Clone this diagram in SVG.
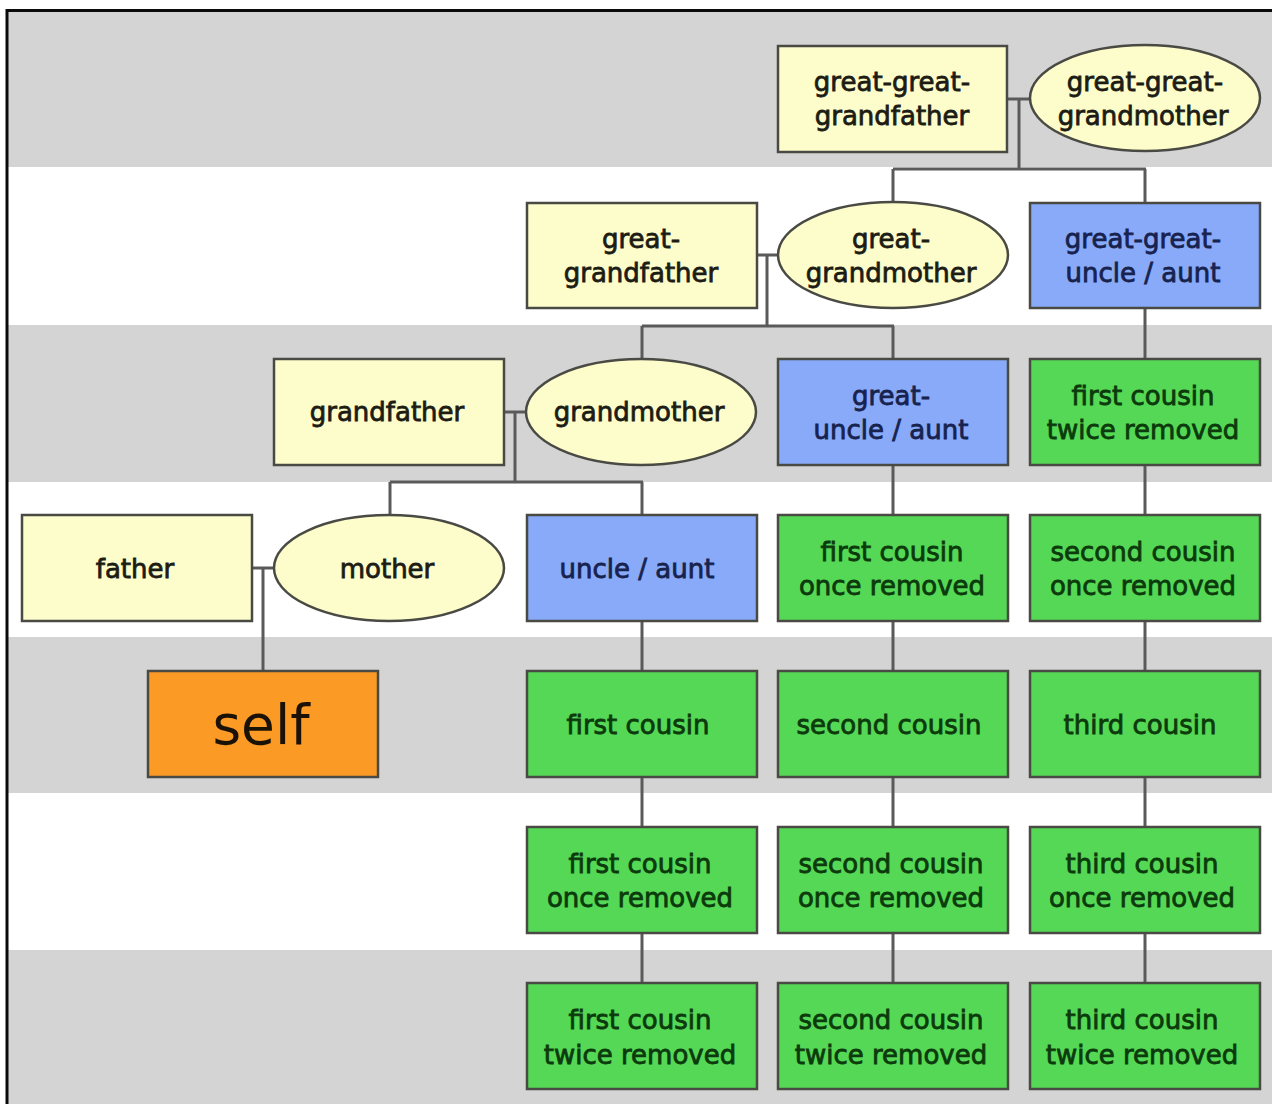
<svg xmlns="http://www.w3.org/2000/svg" width="1272" height="1104" viewBox="0 0 1272 1104">
  <style>
    .band { fill: #d4d4d4; }
    .box { stroke: #4a4a44; stroke-width: 2.5; }
    .anc { fill: #fdfccb; }
    .unc { fill: #88aaf8; }
    .cou { fill: #55d855; }
    .me { fill: #fb9a24; }
    .link { stroke: #5a5a5a; stroke-width: 3; fill: none; }
    text { font-family: "DejaVu Sans", "Liberation Sans", sans-serif; font-size: 26px; text-anchor: middle; stroke-width: 0.8px; }
    .t-anc { fill: #1c1c14; stroke: #1c1c14; }
    .t-unc { fill: #17224e; stroke: #17224e; }
    .t-cou { fill: #0c3a0c; stroke: #0c3a0c; }
  </style>

  <!-- generation bands -->
  <rect x="0" y="0" width="1272" height="1104" fill="#ffffff"/>
  <g id="bands">
    <rect class="band" x="8" y="12" width="1264" height="155"/>
    <rect class="band" x="8" y="325" width="1264" height="157"/>
    <rect class="band" x="8" y="637" width="1264" height="156"/>
    <rect class="band" x="8" y="950" width="1264" height="154"/>
  </g>
  <!-- frame -->
  <path d="M7 1104 V10.5 H1272" stroke="#0a0a0a" stroke-width="3" fill="none"/>

  <!-- connectors -->
  <g id="connectors">
    <path class="link" d="M1007 99 H1030 M1019 99 V169 M893 169 H1146 M893 169 V203 M1145 169 V203"/>
    <path class="link" d="M757 255 H778 M767 255 V326 M642 326 H894 M642 326 V359 M893 326 V359"/>
    <path class="link" d="M504 412 H526 M515 412 V482 M390 482 H643 M390 482 V515 M642 482 V515"/>
    <path class="link" d="M252 568 H274 M263 568 V671"/>
    <path class="link" d="M642 621 V671 M642 777 V827 M642 933 V983"/>
    <path class="link" d="M893 465 V515 M893 621 V671 M893 777 V827 M893 933 V983"/>
    <path class="link" d="M1145 308 V359 M1145 465 V515 M1145 621 V671 M1145 777 V827 M1145 933 V983"/>
  </g>

  <!-- generation 1 -->
  <g id="great-great-grandfather">
    <rect class="box anc" x="778" y="46" width="229" height="106"/>
    <text class="t-anc" x="892" y="91">great-great-</text>
    <text class="t-anc" x="892" y="125">grandfather</text>
  </g>
  <g id="great-great-grandmother">
    <ellipse class="box anc" cx="1145" cy="98" rx="115" ry="53"/>
    <text class="t-anc" x="1145" y="91">great-great-</text>
    <text class="t-anc" x="1143" y="125">grandmother</text>
  </g>

  <!-- generation 2 -->
  <g id="great-grandfather">
    <rect class="box anc" x="527" y="203" width="230" height="105"/>
    <text class="t-anc" x="641" y="248">great-</text>
    <text class="t-anc" x="641" y="282">grandfather</text>
  </g>
  <g id="great-grandmother">
    <ellipse class="box anc" cx="893" cy="255" rx="115" ry="53"/>
    <text class="t-anc" x="891" y="248">great-</text>
    <text class="t-anc" x="891" y="282">grandmother</text>
  </g>
  <g id="great-great-uncle-aunt">
    <rect class="box unc" x="1030" y="203" width="230" height="105"/>
    <text class="t-unc" x="1143" y="248">great-great-</text>
    <text class="t-unc" x="1143" y="282">uncle / aunt</text>
  </g>

  <!-- generation 3 -->
  <g id="grandfather">
    <rect class="box anc" x="274" y="359" width="230" height="106"/>
    <text class="t-anc" x="387" y="421">grandfather</text>
  </g>
  <g id="grandmother">
    <ellipse class="box anc" cx="641" cy="412" rx="115" ry="53"/>
    <text class="t-anc" x="639" y="421">grandmother</text>
  </g>
  <g id="great-uncle-aunt">
    <rect class="box unc" x="778" y="359" width="230" height="106"/>
    <text class="t-unc" x="891" y="405">great-</text>
    <text class="t-unc" x="891" y="439">uncle / aunt</text>
  </g>
  <g id="first-cousin-twice-removed-up">
    <rect class="box cou" x="1030" y="359" width="230" height="106"/>
    <text class="t-cou" x="1143" y="405">first cousin</text>
    <text class="t-cou" x="1143" y="439">twice removed</text>
  </g>

  <!-- generation 4 -->
  <g id="father">
    <rect class="box anc" x="22" y="515" width="230" height="106"/>
    <text class="t-anc" x="135" y="578">father</text>
  </g>
  <g id="mother">
    <ellipse class="box anc" cx="389" cy="568" rx="115" ry="53"/>
    <text class="t-anc" x="387" y="578">mother</text>
  </g>
  <g id="uncle-aunt">
    <rect class="box unc" x="527" y="515" width="230" height="106"/>
    <text class="t-unc" x="637" y="578">uncle / aunt</text>
  </g>
  <g id="first-cousin-once-removed-up">
    <rect class="box cou" x="778" y="515" width="230" height="106"/>
    <text class="t-cou" x="892" y="561">first cousin</text>
    <text class="t-cou" x="892" y="595">once removed</text>
  </g>
  <g id="second-cousin-once-removed-up">
    <rect class="box cou" x="1030" y="515" width="230" height="106"/>
    <text class="t-cou" x="1143" y="561">second cousin</text>
    <text class="t-cou" x="1143" y="595">once removed</text>
  </g>

  <!-- generation 5 -->
  <g id="self">
    <rect class="box me" x="148" y="671" width="230" height="106"/>
    <text x="261" y="744" style="font-size:55px" fill="#1a1206">self</text>
  </g>
  <g id="first-cousin">
    <rect class="box cou" x="527" y="671" width="230" height="106"/>
    <text class="t-cou" x="638" y="734">first cousin</text>
  </g>
  <g id="second-cousin">
    <rect class="box cou" x="778" y="671" width="230" height="106"/>
    <text class="t-cou" x="889" y="734">second cousin</text>
  </g>
  <g id="third-cousin">
    <rect class="box cou" x="1030" y="671" width="230" height="106"/>
    <text class="t-cou" x="1140" y="734">third cousin</text>
  </g>

  <!-- generation 6 -->
  <g id="first-cousin-once-removed">
    <rect class="box cou" x="527" y="827" width="230" height="106"/>
    <text class="t-cou" x="640" y="873">first cousin</text>
    <text class="t-cou" x="640" y="907">once removed</text>
  </g>
  <g id="second-cousin-once-removed">
    <rect class="box cou" x="778" y="827" width="230" height="106"/>
    <text class="t-cou" x="891" y="873">second cousin</text>
    <text class="t-cou" x="891" y="907">once removed</text>
  </g>
  <g id="third-cousin-once-removed">
    <rect class="box cou" x="1030" y="827" width="230" height="106"/>
    <text class="t-cou" x="1142" y="873">third cousin</text>
    <text class="t-cou" x="1142" y="907">once removed</text>
  </g>

  <!-- generation 7 -->
  <g id="first-cousin-twice-removed">
    <rect class="box cou" x="527" y="983" width="230" height="106"/>
    <text class="t-cou" x="640" y="1029">first cousin</text>
    <text class="t-cou" x="640" y="1064">twice removed</text>
  </g>
  <g id="second-cousin-twice-removed">
    <rect class="box cou" x="778" y="983" width="230" height="106"/>
    <text class="t-cou" x="891" y="1029">second cousin</text>
    <text class="t-cou" x="891" y="1064">twice removed</text>
  </g>
  <g id="third-cousin-twice-removed">
    <rect class="box cou" x="1030" y="983" width="230" height="106"/>
    <text class="t-cou" x="1142" y="1029">third cousin</text>
    <text class="t-cou" x="1142" y="1064">twice removed</text>
  </g>
</svg>
